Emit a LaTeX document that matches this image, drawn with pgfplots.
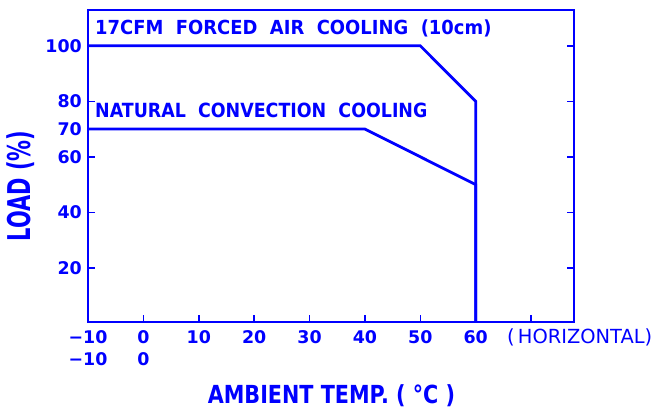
\documentclass[border=0pt]{standalone}
\usepackage{pgfplots}
\pgfplotsset{compat=1.18}
\usepackage{fontspec}
\setmainfont{DejaVu Sans}
\definecolor{plotblue}{RGB}{0,0,255}
\begin{document}
\begin{tikzpicture}
\begin{axis}[
  at={(0,0)}, anchor=south west,
  scale only axis, width=486bp, height=312bp,
  xmin=-10, xmax=77.75, ymin=0.5, ymax=112.9,
  axis line style={plotblue, line width=2bp},
  xtick={-10,0,10,20,30,40,50,60,70},
  xticklabels={−10,0,10,20,30,40,50,60,{}},
  ytick={20,40,60,80,100},
  extra y ticks={70},
  extra y tick style={major tick length=0pt},
  tick align=inside,
  xtick pos=bottom, ytick pos=both,
  major tick length=7bp,
  tick style={plotblue, line width=1.6bp},
  /pgf/number format/assume math mode=true,
  ticklabel style={font=\fontsize{17.5}{17.5}\selectfont\bfseries, text=plotblue, inner sep=0pt},
  xticklabel style={anchor=north, yshift=-8bp},
  yticklabel style={anchor=east, xshift=-6bp},
  xlabel={\scalebox{1}[1.2]{\fontsize{20.8}{20.8}\selectfont\bfseries AMBIENT TEMP.\ ( °C )}},
  xlabel style={at={(rel axis cs:0.501,-0.237)}, anchor=center, text=plotblue, inner sep=0pt},
  ylabel={\scalebox{1}[1.5]{\fontsize{21}{21}\selectfont\bfseries LOAD (\%)}},
  ylabel style={at={(rel axis cs:-0.138,0.436)}, anchor=center, text=plotblue, inner sep=0pt},
  clip mode=individual,
]
\addplot[plotblue, line width=2.8bp] coordinates {(-10,100) (50,100) (60,80) (60,0)};
\addplot[plotblue, line width=2.8bp] coordinates {(-10,70) (40,70) (60,50) (60,0)};
\node[anchor=base west, inner sep=0pt, text=plotblue, font=\fontsize{18}{18}\selectfont\bfseries] at (rel axis cs:0.0144,0.920) {\scalebox{1}[1.08]{17CFM\ \ FORCED\ \ AIR\ \ COOLING\ \ (10cm)}};
\node[anchor=base west, inner sep=0pt, text=plotblue, font=\fontsize{17.5}{17.5}\selectfont\bfseries] at (rel axis cs:0.0144,0.654) {\scalebox{1}[1.12]{NATURAL\ \ CONVECTION\ \ COOLING}};
\node[anchor=base west, inner sep=0pt, text=plotblue, font=\fontsize{19.5}{19.5}\selectfont] at (rel axis cs:0.862,-0.0705) {(\,HORIZONTAL)};
\node[anchor=base, inner sep=0pt, text=plotblue, font=\fontsize{17.5}{17.5}\selectfont\bfseries] at (axis cs:-10,-15.0) {−10};
\node[anchor=base, inner sep=0pt, text=plotblue, font=\fontsize{17.5}{17.5}\selectfont\bfseries] at (axis cs:0,-15.0) {0};
\end{axis}
\pgfresetboundingbox
\useasboundingbox (-88bp,-89bp) rectangle (564bp,322bp);
\end{tikzpicture}
\end{document}
